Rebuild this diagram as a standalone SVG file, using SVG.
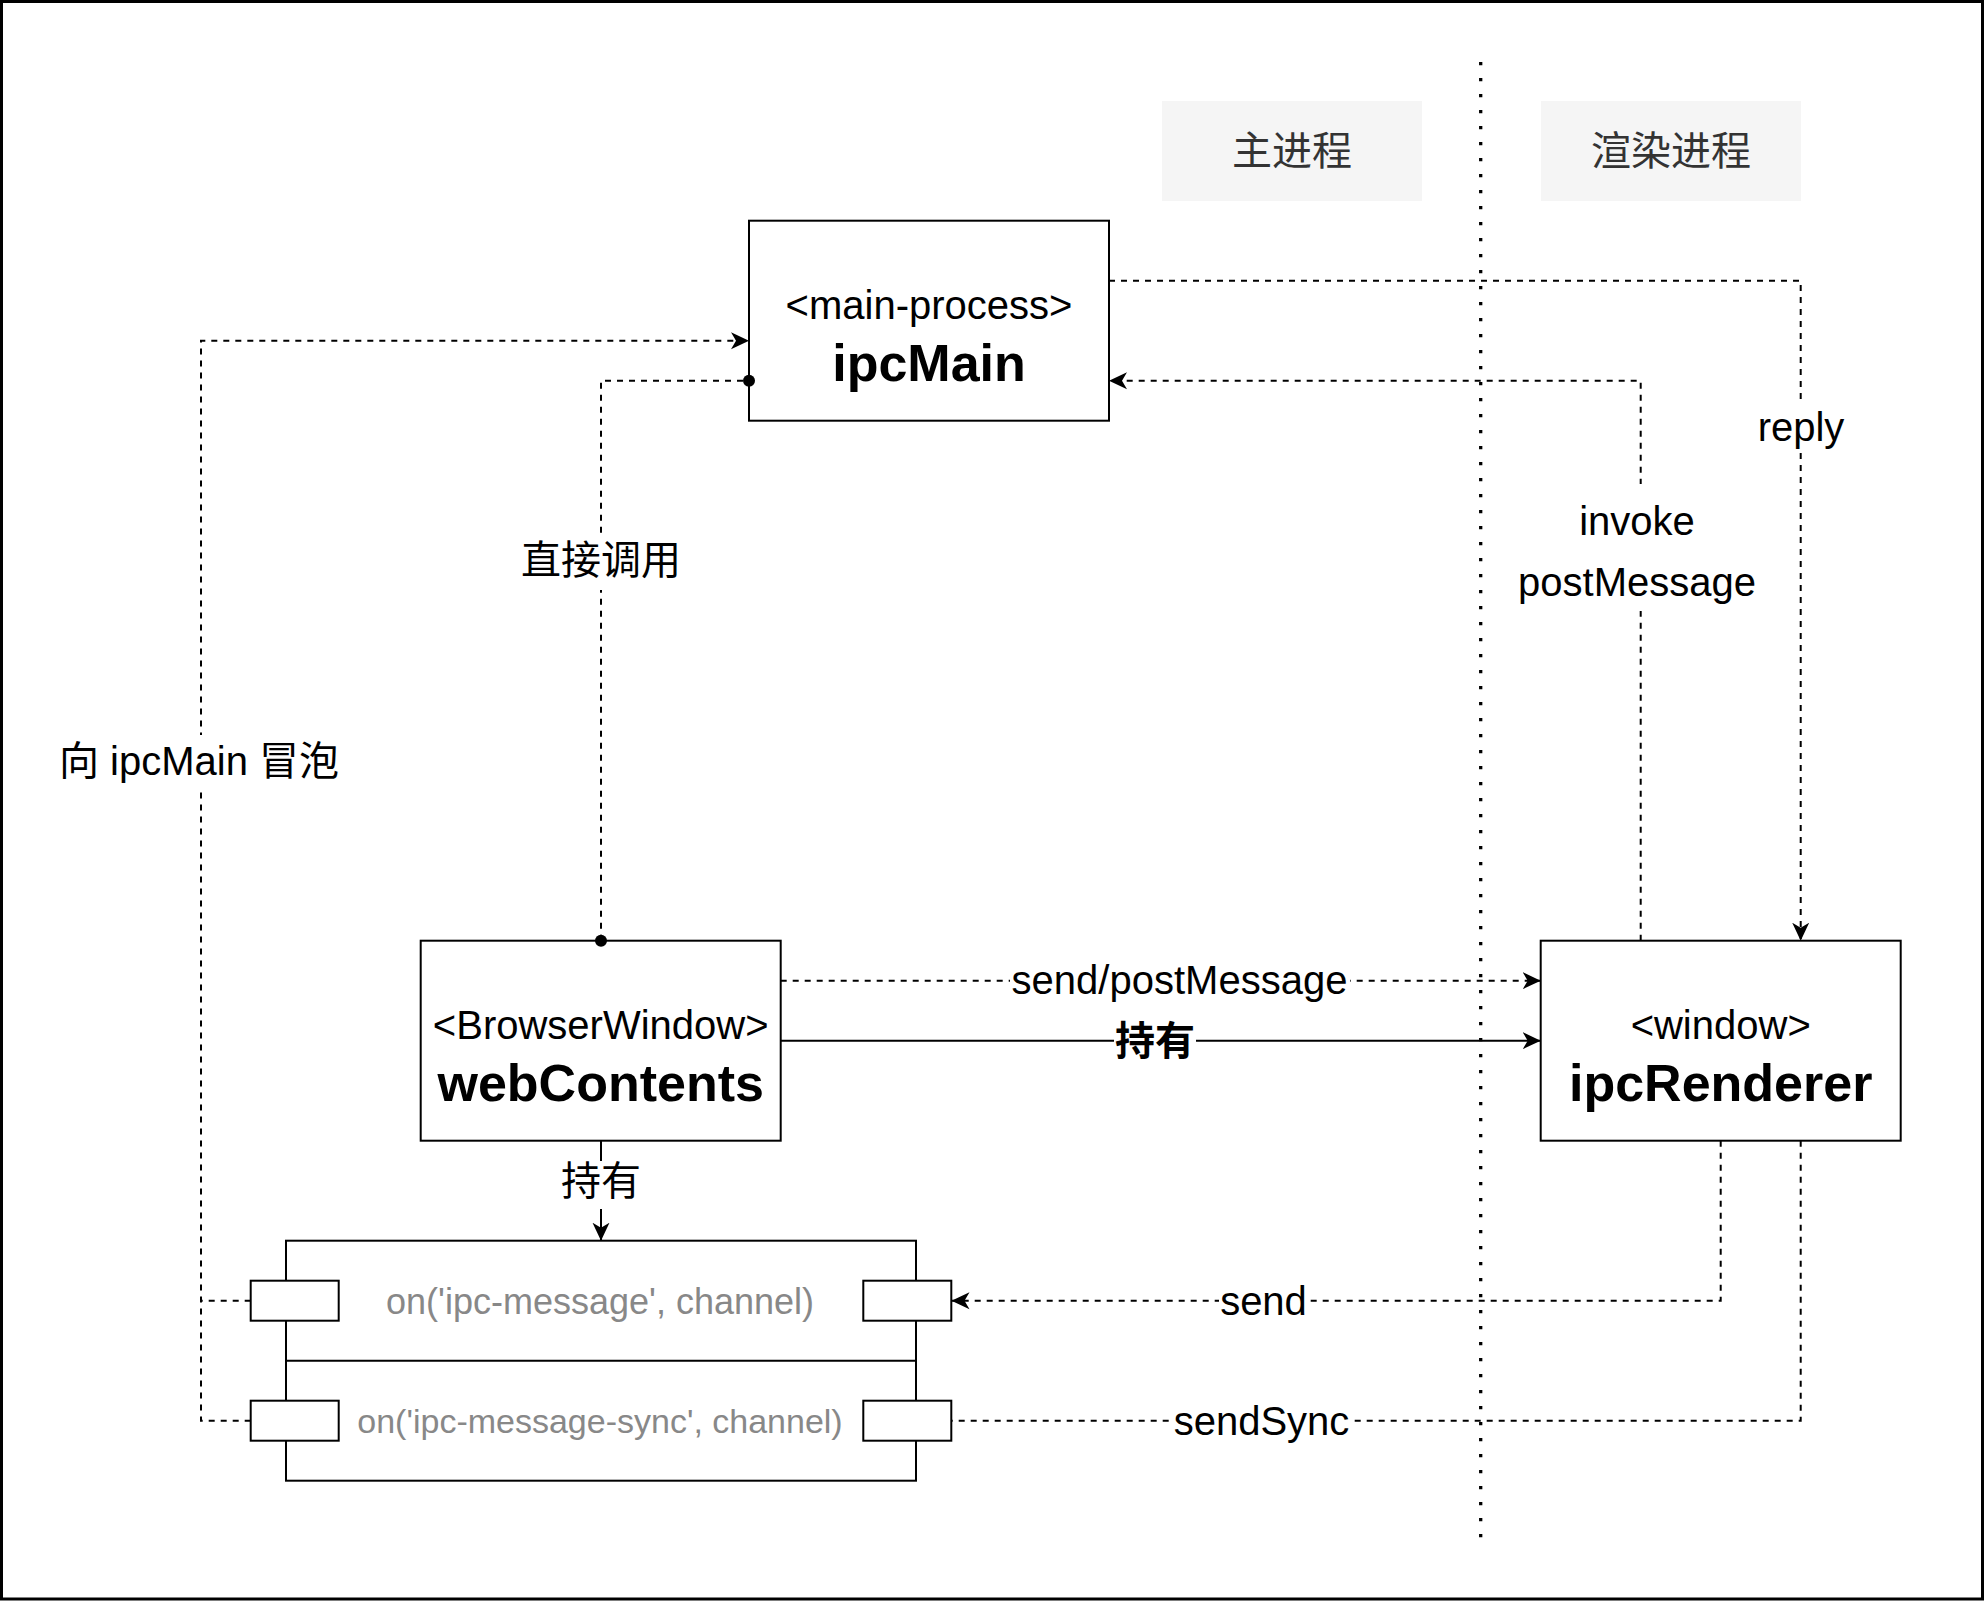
<svg xmlns="http://www.w3.org/2000/svg" width="1984" height="1602" viewBox="0 0 1984 1602">
<style>
  text { font-family: "Liberation Sans", Arial, "Noto Sans CJK SC", sans-serif; fill: #000; }
  .lbl { font-size: 40px; text-anchor: middle; }
  .bold { font-size: 52px; font-weight: bold; text-anchor: middle; }
  .gray { fill: #888888; text-anchor: middle; }
  .title { font-size: 40px; fill: #333333; text-anchor: middle; }
  .box { fill: #ffffff; stroke: #000; stroke-width: 2; }
  .tbox { fill: #f5f5f5; stroke: none; }
  .dash { fill: none; stroke: #000; stroke-width: 2; stroke-dasharray: 6 6; }
  .solid { fill: none; stroke: #000; stroke-width: 2; }
  .bg { fill: #ffffff; stroke: none; }
</style>
<defs>
  <marker id="arrow" viewBox="0 0 20 20" refX="18" refY="10" markerWidth="20" markerHeight="20" markerUnits="userSpaceOnUse" orient="auto">
    <path d="M0,1.5 L18,10 L0,18.5 L5,10 Z" fill="#000"/>
  </marker>
  <marker id="dot" viewBox="0 0 14 14" refX="7" refY="7" markerWidth="14" markerHeight="14" markerUnits="userSpaceOnUse" orient="auto">
    <circle cx="7" cy="7" r="6" fill="#000"/>
  </marker>
</defs>

<rect x="0" y="0" width="1984" height="1602" fill="#ffffff"/>
<rect x="1.5" y="1.5" width="1981" height="1597.5" fill="none" stroke="#000" stroke-width="3"/>

<g id="titles">
  <g id="title-main">
    <rect class="tbox" x="1162" y="101" width="260" height="100"/>
    <text class="title" x="1292" y="165">主进程</text>
  </g>
  <g id="title-renderer">
    <rect class="tbox" x="1541" y="101" width="260" height="100"/>
    <text class="title" x="1671" y="165">渲染进程</text>
  </g>
</g>

<g id="ipcMain">
  <rect class="box" x="749" y="220.7" width="360" height="200"/>
  <text class="lbl" x="929" y="319">&lt;main-process&gt;</text>
  <text class="bold" x="929" y="381">ipcMain</text>
</g>

<g id="webContents">
  <rect class="box" x="420.7" y="940.7" width="360" height="200"/>
  <text class="lbl" x="600.7" y="1039">&lt;BrowserWindow&gt;</text>
  <text class="bold" x="600.7" y="1101">webContents</text>
</g>

<g id="ipcRenderer">
  <rect class="box" x="1540.7" y="940.7" width="360" height="200"/>
  <text class="lbl" x="1720.7" y="1039">&lt;window&gt;</text>
  <text class="bold" x="1720.7" y="1101">ipcRenderer</text>
</g>

<g id="listeners">
  <rect class="box" x="286" y="1240.7" width="630" height="240"/>
  <line x1="286" y1="1360.7" x2="916" y2="1360.7" stroke="#000" stroke-width="2"/>
  <rect class="box" x="250.7" y="1280.7" width="88" height="40"/>
  <rect class="box" x="863.3" y="1280.7" width="88" height="40"/>
  <rect class="box" x="250.7" y="1400.7" width="88" height="40"/>
  <rect class="box" x="863.3" y="1400.7" width="88" height="40"/>
  <text class="gray" x="600" y="1313.5" font-size="36">on('ipc-message', channel)</text>
  <text class="gray" x="600" y="1433" font-size="34">on('ipc-message-sync', channel)</text>
</g>

<g id="connectors">
  <!-- reply -->
  <path class="dash" d="M1109,280.7 H1800.7 V940.7" marker-end="url(#arrow)"/>
  <!-- invoke / postMessage -->
  <path class="dash" d="M1640.7,940.7 V380.7 H1109" marker-end="url(#arrow)"/>
  <!-- direct call -->
  <path class="dash" d="M601,940.7 V380.7 H749" marker-start="url(#dot)" marker-end="url(#dot)"/>
  <!-- bubble to ipcMain -->
  <path class="dash" d="M250.7,1420.7 H201 V340.7 H749" marker-end="url(#arrow)"/>
  <path class="dash" d="M250.7,1300.7 H201"/>
  <!-- send/postMessage -->
  <path class="dash" d="M780.7,980.7 H1540.7" marker-end="url(#arrow)"/>
  <!-- hold (to ipcRenderer) -->
  <path class="solid" d="M780.7,1040.7 H1540.7" marker-end="url(#arrow)"/>
  <!-- hold (to component) -->
  <path class="solid" d="M601,1140.7 V1240.7" marker-end="url(#arrow)"/>
  <!-- send -->
  <path class="dash" d="M1720.7,1140.7 V1300.7 H951.5" marker-end="url(#arrow)"/>
  <!-- sendSync -->
  <path class="dash" d="M1800.7,1140.7 V1420.7 H951.5"/>

  <g id="connector-labels">
    <rect class="bg" x="1752" y="405" width="98" height="47"/>
    <text class="lbl" x="1801" y="441">reply</text>

    <rect class="bg" x="1516" y="484" width="250" height="127"/>
    <text class="lbl" x="1637" y="535">invoke</text>
    <text class="lbl" x="1637" y="596">postMessage</text>

    <rect class="bg" x="519" y="537" width="164" height="53"/>
    <text class="lbl" x="601" y="574">直接调用</text>

    <rect class="bg" x="58" y="735" width="282" height="56"/>
    <text class="lbl" x="199" y="775">向 ipcMain 冒泡</text>

    <rect class="bg" x="1010" y="960" width="340" height="42"/>
    <text class="lbl" x="1179.5" y="994">send/postMessage</text>

    <rect class="bg" x="1114" y="1020" width="82" height="42"/>
    <text class="lbl" x="1155" y="1055" font-weight="bold">持有</text>

    <rect class="bg" x="560" y="1161" width="82" height="48"/>
    <text class="lbl" x="601" y="1195">持有</text>

    <rect class="bg" x="1219" y="1280" width="89" height="42"/>
    <text class="lbl" x="1263.5" y="1315">send</text>

    <rect class="bg" x="1172" y="1400" width="180" height="42"/>
    <text class="lbl" x="1261.5" y="1435">sendSync</text>
  </g>
</g>

<g id="divider">
  <line x1="1480.7" y1="62" x2="1480.7" y2="1541" stroke="#000" stroke-width="3.3" stroke-dasharray="3.3 12.7"/>
</g>
</svg>
